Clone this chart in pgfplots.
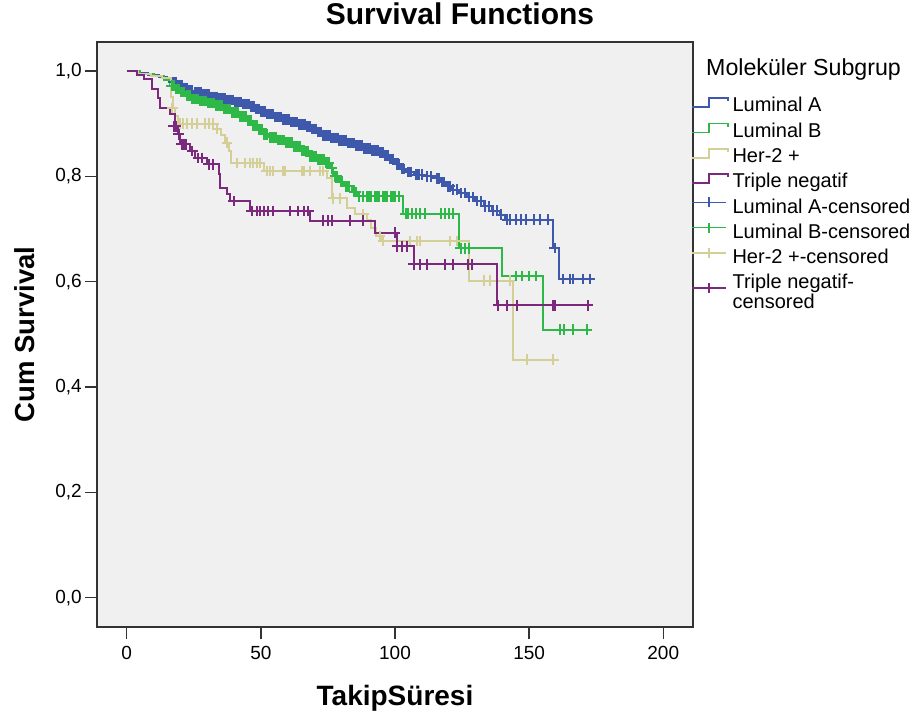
\documentclass[border=0pt]{standalone}
\usepackage{fontspec}
\setmainfont{Liberation Sans}
\usepackage{pgfplots}
\pgfplotsset{compat=1.18}
\definecolor{cA}{RGB}{62,88,172}
\definecolor{cB}{RGB}{46,184,72}
\definecolor{cH}{RGB}{212,206,151}
\definecolor{cT}{RGB}{124,40,125}
\definecolor{bg}{RGB}{240,240,240}
\newcommand\ls{\rule[-8.7pt]{0pt}{27.4pt}}
\pgfplotsset{
  kmstep/.style={const plot, line width=2pt,
    legend image code/.code={\draw[##1, line width=1.5pt] (0pt,-4pt) -- (17pt,-4pt) -- (17pt,5pt) -- (36pt,5pt) -- (36pt,2pt);}},
  cens/.style={forget plot, only marks, mark=+, mark size=5.3pt, line width=2pt},
}
\begin{document}
\begin{tikzpicture}[x=1pt,y=1pt]
\useasboundingbox (-97,-88) rectangle (823,627);
\begin{axis}[
  at={(0,0)}, anchor=south west,
  scale only axis, width=596pt, height=585pt,
  xmin=-11.1, xmax=211.1, ymin=-0.0557, ymax=1.0551,
  axis background/.style={fill=bg},
  axis line style={draw=black!80, line width=1.4pt},
  xtick={0,50,100,150,200}, ytick={0,0.2,0.4,0.6,0.8,1.0},
  xtick pos=bottom, ytick pos=left,
  tick align=outside, major tick length=12pt,
  every tick/.style={black!80, line width=1.4pt},
  /pgf/number format/assume math mode=true,
  ticklabel style={font=\fontsize{19}{22}\selectfont, inner sep=0pt},
  xticklabel style={yshift=-7pt},
  yticklabel style={xshift=-3pt, /pgf/number format/.cd, fixed, fixed zerofill, precision=1, use comma},
  title={Survival Functions},
  title style={at={(axis description cs:0.609,1.0205)}, anchor=base, font=\bfseries\fontsize{30}{34}\selectfont, inner sep=0pt},
  xlabel={TakipSüresi},
  xlabel style={at={(axis description cs:0.5,-0.135)}, anchor=base, font=\bfseries\fontsize{28}{32}\selectfont, inner sep=0pt},
  ylabel={Cum Survival},
  ylabel style={at={(axis description cs:-0.1045,0.5)}, anchor=base, font=\bfseries\fontsize{27.5}{32}\selectfont, inner sep=0pt},
  legend style={at={(axis description cs:0.9967,0.916)}, anchor=north west, draw=none, fill=none,
    inner sep=0pt, outer sep=0pt, row sep=1.1pt, column sep=2pt,
    font=\fontsize{20}{19.5}\selectfont, cells={align=left, inner sep=0pt}},
  legend cell align=left,
  clip=false,
]
% Luminal A
\addplot[kmstep, cA] table {
0 1.000
4 0.996
8 0.992
12 0.988
15 0.984
17 0.979
19 0.973
21 0.968
23 0.963
25 0.959
28 0.955
31 0.951
34 0.948
37 0.945
40 0.941
43 0.937
46 0.933
48 0.928
50 0.923
52 0.918
55 0.913
58 0.908
61 0.903
64 0.899
67 0.895
69 0.890
71 0.884
73 0.878
76 0.873
79 0.868
82 0.863
85 0.858
88 0.853
91 0.849
94 0.845
96 0.840
98 0.833
100 0.823
102 0.814
104 0.808
107 0.803
111 0.800
115 0.796
117 0.789
119 0.781
121 0.775
124 0.768
127 0.761
130 0.753
133 0.743
136 0.735
139 0.727
141 0.718
159 0.664
161 0.605
173.5 0.605
};
\addlegendentry{Luminal A\ls}
% Luminal B
\addplot[kmstep, cB] table {
0 1.000
5 0.995
10 0.990
14 0.982
16 0.972
18 0.966
20 0.960
22 0.953
24 0.947
27 0.943
30 0.939
33 0.934
36 0.928
39 0.921
42 0.914
45 0.906
47 0.897
49 0.889
51 0.880
53 0.874
56 0.869
59 0.864
62 0.857
65 0.848
68 0.838
71 0.832
74 0.826
76 0.815
77 0.800
79 0.790
81 0.781
84 0.770
86 0.762
103 0.729
124 0.663
140 0.611
155 0.509
172 0.509
};
\addlegendentry{Luminal B\ls}
% Her-2 +
\addplot[kmstep, cH] table {
0 1.000
4 0.995
9 0.990
13 0.986
16.5 0.950
17.3 0.930
18 0.915
19 0.900
33.5 0.890
35 0.878
36.5 0.864
38 0.848
39 0.825
51 0.810
74.6 0.797
76.5 0.758
82 0.740
85 0.728
89.5 0.718
91 0.702
93 0.686
95 0.677
127.5 0.602
144 0.452
160 0.452
};
\addlegendentry{Her-2 +\ls}
% Triple negatif
\addplot[kmstep, cT] table {
0 1.000
3.8 0.992
6.3 0.984
9.4 0.965
11.8 0.949
12.5 0.930
16.2 0.918
18 0.895
19 0.880
20 0.861
23.7 0.848
25.5 0.835
29.9 0.823
34.2 0.804
34.8 0.778
37.3 0.766
38.6 0.753
46 0.734
68.4 0.716
92.6 0.693
100.7 0.667
106.9 0.633
137.9 0.555
174 0.555
};
\addlegendentry{Triple negatif\ls}
% censored marks
\addplot[cens, cA] table {
17.2 0.979
17.7 0.979
18.5 0.979
19.2 0.973
19.7 0.973
20.5 0.973
21.2 0.968
21.7 0.968
22.5 0.968
23.2 0.963
23.7 0.963
24.5 0.963
25.3 0.959
25.7 0.959
26.4 0.959
27 0.959
27.6 0.959
28.3 0.955
28.7 0.955
29.4 0.955
30 0.955
30.6 0.955
31.3 0.951
31.7 0.951
32.4 0.951
33 0.951
33.6 0.951
34.3 0.948
34.7 0.948
35.4 0.948
36 0.948
36.6 0.948
37.3 0.945
37.7 0.945
38.4 0.945
39 0.945
39.6 0.945
40.3 0.941
40.7 0.941
41.4 0.941
42 0.941
42.6 0.941
43.3 0.937
43.7 0.937
44.4 0.937
45 0.937
45.6 0.937
46.2 0.933
46.7 0.933
47.4 0.933
48.2 0.928
48.7 0.928
49.4 0.928
50.2 0.923
50.7 0.923
51.4 0.923
52.2 0.918
52.7 0.918
53.4 0.918
54 0.918
54.6 0.918
55.3 0.913
55.7 0.913
56.4 0.913
57 0.913
57.6 0.913
58.3 0.908
58.7 0.908
59.4 0.908
60 0.908
60.6 0.908
61.3 0.903
61.7 0.903
62.4 0.903
63 0.903
63.6 0.903
64.3 0.899
64.7 0.899
65.4 0.899
66 0.899
66.6 0.899
67.3 0.895
67.7 0.895
68.4 0.895
69.2 0.890
69.7 0.890
70.4 0.890
71.2 0.884
71.7 0.884
72.4 0.884
73.3 0.878
73.7 0.878
74.4 0.878
75 0.878
75.6 0.878
76.3 0.873
76.7 0.873
77.4 0.873
78 0.873
78.6 0.873
79.3 0.868
79.7 0.868
80.4 0.868
81 0.868
81.6 0.868
82.3 0.863
82.7 0.863
83.4 0.863
84 0.863
84.6 0.863
85.3 0.858
85.7 0.858
86.4 0.858
87 0.858
87.6 0.858
88.3 0.853
88.7 0.853
89.4 0.853
90 0.853
90.6 0.853
91.3 0.849
91.7 0.849
92.4 0.849
93 0.849
93.6 0.849
94.3 0.845
94.7 0.845
95.4 0.845
96.2 0.840
96.7 0.840
97.4 0.840
98.2 0.833
98.7 0.833
99.4 0.833
100.7 0.823
101.4 0.823
102.7 0.814
103.4 0.814
104.7 0.808
105.4 0.808
106 0.808
107.7 0.803
108.4 0.803
109 0.803
110 0.803
112 0.800
113.5 0.800
115.7 0.796
116.4 0.796
117.7 0.789
118.4 0.789
119.7 0.781
120.4 0.781
121.7 0.775
123 0.775
124.7 0.768
126 0.768
127.7 0.761
129 0.761
130.7 0.753
132 0.753
133.7 0.743
135 0.743
136.7 0.735
138 0.735
139.7 0.727
141.7 0.718
143 0.718
145 0.718
147 0.718
149 0.718
152 0.718
154 0.718
157 0.718
159.5 0.664
162.7 0.605
165.2 0.605
166.5 0.605
170.2 0.605
172.7 0.605
};
\addplot[cens, cB] table {
16.7 0.972
17.2 0.972
17.5 0.972
18.3 0.966
18.7 0.966
19.5 0.966
20.3 0.960
20.7 0.960
21.5 0.960
22.3 0.953
22.7 0.953
23.5 0.953
24.3 0.947
24.7 0.947
25.4 0.947
26 0.947
26.6 0.947
27.3 0.943
27.7 0.943
28.4 0.943
29 0.943
29.6 0.943
30.3 0.939
30.7 0.939
31.4 0.939
32 0.939
32.6 0.939
33.3 0.934
33.7 0.934
34.4 0.934
35 0.934
35.6 0.934
36.3 0.928
36.7 0.928
37.4 0.928
38 0.928
38.6 0.928
39.3 0.921
39.7 0.921
40.4 0.921
41 0.921
41.6 0.921
42.3 0.914
42.7 0.914
43.4 0.914
44 0.914
44.6 0.914
45.3 0.906
45.7 0.906
46.4 0.906
47.2 0.897
47.7 0.897
48.4 0.897
49.2 0.889
49.7 0.889
50.4 0.889
51.2 0.880
51.7 0.880
52.4 0.880
53.3 0.874
53.7 0.874
54.4 0.874
55 0.874
55.6 0.874
56.3 0.869
56.7 0.869
57.4 0.869
58 0.869
58.6 0.869
59.3 0.864
59.7 0.864
60.4 0.864
61 0.864
61.6 0.864
62.3 0.857
62.7 0.857
63.4 0.857
64 0.857
64.6 0.857
65.3 0.848
65.7 0.848
66.4 0.848
67 0.848
67.6 0.848
68.3 0.838
68.7 0.838
69.4 0.838
70 0.838
70.6 0.838
71.3 0.832
71.7 0.832
72.4 0.832
73 0.832
73.6 0.832
74.3 0.826
74.7 0.826
75.4 0.826
76.4 0.815
77.7 0.800
78.4 0.800
79.7 0.790
80.4 0.790
81.7 0.781
82.4 0.781
83 0.781
84.7 0.770
85.4 0.770
86.7 0.762
88 0.762
89.5 0.762
90.3 0.762
91 0.762
92.5 0.762
93.3 0.762
94 0.762
95.5 0.762
96.3 0.762
97 0.762
98.5 0.762
99.3 0.762
100 0.762
101.5 0.762
104 0.729
105 0.729
106.5 0.729
108 0.729
109.5 0.729
111 0.729
117 0.729
118.5 0.729
120 0.729
121.5 0.729
124.5 0.663
126 0.663
127.5 0.663
145 0.611
147.5 0.611
150 0.611
152.5 0.611
161.5 0.509
163 0.509
166.5 0.509
171.5 0.509
};
\addplot[cens, cH] table {
17 0.930
19.9 0.900
21 0.900
22.4 0.900
24.3 0.900
26.2 0.900
29.2 0.900
30.5 0.900
32.3 0.900
33.6 0.890
37.3 0.864
41 0.825
44.1 0.825
46 0.825
47.2 0.825
48.5 0.825
49.7 0.825
52.2 0.810
53.5 0.810
54.7 0.810
58.4 0.810
59 0.810
65.3 0.810
65.9 0.810
68.4 0.810
72.1 0.810
73.3 0.810
77 0.758
79.5 0.758
88.2 0.728
94.4 0.686
95.7 0.677
105.6 0.677
108.1 0.677
109.4 0.677
120.5 0.677
123 0.677
133 0.602
135.4 0.602
142.9 0.602
149.1 0.452
159 0.452
};
\addplot[cens, cT] table {
17.5 0.895
18.3 0.895
19.3 0.880
20.5 0.861
21.2 0.861
22 0.861
24.5 0.848
26.5 0.835
28 0.835
30.5 0.823
32 0.823
39.8 0.753
46.6 0.734
48.5 0.734
49.7 0.734
51 0.734
52.8 0.734
54.7 0.734
60.9 0.734
64 0.734
65.9 0.734
67.7 0.734
73.3 0.716
75.2 0.716
76.5 0.716
83.3 0.716
88.2 0.716
100 0.693
100.7 0.667
102.5 0.667
104.4 0.667
106.9 0.633
109.4 0.633
111.9 0.633
118.7 0.633
121.8 0.633
127.4 0.633
128.6 0.633
138.5 0.555
141.7 0.555
145.4 0.555
159 0.555
159.7 0.555
172 0.555
};
\addlegendimage{legend image code/.code={\draw[cA, line width=1.5pt] (0pt,2pt) -- (34pt,2pt); \draw[cA, line width=1.5pt] (17pt,-3pt) -- (17pt,7pt);}}
\addlegendentry{Luminal A-censored\ls}
\addlegendimage{legend image code/.code={\draw[cB, line width=1.5pt] (0pt,2pt) -- (34pt,2pt); \draw[cB, line width=1.5pt] (17pt,-3pt) -- (17pt,7pt);}}
\addlegendentry{Luminal B-censored\ls}
\addlegendimage{legend image code/.code={\draw[cH, line width=1.5pt] (0pt,2pt) -- (34pt,2pt); \draw[cH, line width=1.5pt] (17pt,-3pt) -- (17pt,7pt);}}
\addlegendentry{Her-2 +-censored\ls}
\addlegendimage{legend image code/.code={\draw[cT, line width=1.5pt] (0pt,2pt) -- (34pt,2pt); \draw[cT, line width=1.5pt] (17pt,-3pt) -- (17pt,7pt);}}
\addlegendentry{\rule{0pt}{18.7pt}Triple negatif-\\censored\rule[-8.7pt]{0pt}{0pt}}
\node[anchor=base west, inner sep=0pt, font=\fontsize{23.2}{26}\selectfont] at (axis description cs:1.0218,0.9419) {Moleküler Subgrup};
\end{axis}
\end{tikzpicture}
\end{document}
